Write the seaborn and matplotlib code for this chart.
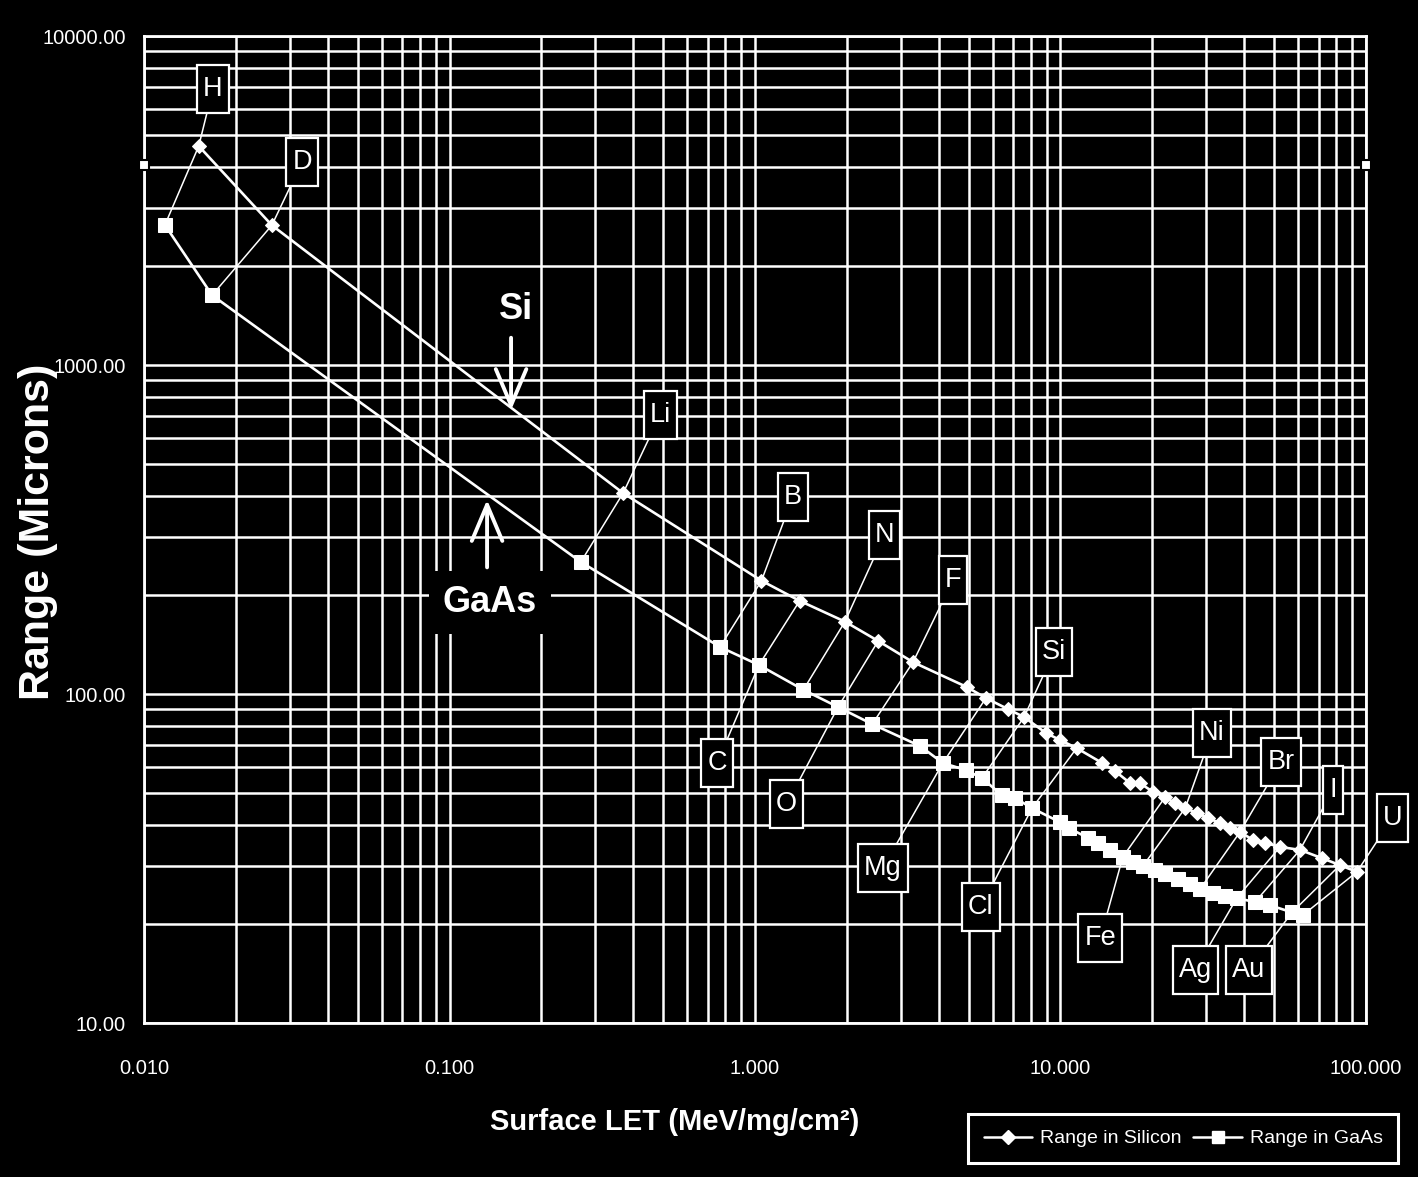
import numpy as np
import pandas as pd
import matplotlib
matplotlib.use('Agg')
import matplotlib.pyplot as plt
import seaborn as sns
from matplotlib.path import Path
from matplotlib.ticker import LogLocator, NullFormatter
from matplotlib.lines import Line2D

# Range in silicon (surface LET, range in microns)
si_let = [0.0151, 0.0262, 0.370, 1.05, 1.40, 1.97, 2.53, 3.29, 4.94, 5.70,
          6.73, 7.60, 8.97, 9.96, 11.3, 13.7, 15.1, 16.9, 18.2, 20.1,
          22.0, 23.7, 25.6, 28.0, 30.4, 33.3, 35.9, 38.7, 42.7, 46.7,
          52.3, 60.8, 71.8, 82.2, 93.4]
si_range = [4630, 2660, 408, 221, 192, 166, 145, 125, 105, 97.2,
            90.0, 85.1, 76.1, 72.5, 68.5, 61.7, 58.3, 53.6, 53.6, 50.4,
            48.6, 46.6, 45.0, 43.5, 42.0, 40.5, 39.1, 38.1, 36.0, 35.3,
            34.3, 33.6, 31.7, 30.2, 28.8]

# Range in GaAs, same ions in the same order
gaas_let = [0.0117, 0.0167, 0.269, 0.768, 1.03, 1.44, 1.87, 2.42, 3.47, 4.12,
            4.91, 5.53, 6.43, 7.10, 8.07, 9.96, 10.7, 12.3, 13.3, 14.5,
            16.0, 17.3, 18.6, 20.4, 22.0, 24.3, 26.5, 28.6, 31.6, 34.6,
            37.8, 43.3, 48.5, 57.3, 62.2]
gaas_range = [2665, 1630, 252, 139, 122.5, 103, 91.3, 81.0, 69.5, 61.7,
              58.7, 55.5, 49.3, 48.3, 45.0, 40.8, 39.1, 36.5, 35.3, 33.6,
              32.0, 30.9, 30.0, 29.2, 28.4, 27.4, 26.5, 25.5, 24.8, 24.3,
              24.0, 23.3, 22.8, 21.7, 21.3]

# ion labels: name, index in the series, which point the leader hits, box centre
ion_names = ['H', 'D', 'Li', 'B', 'C', 'N', 'O', 'F', 'Mg', 'Si',
             'Cl', 'Fe', 'Ni', 'Br', 'Ag', 'I', 'Au', 'U']
ion_index = [0, 1, 2, 3, 4, 5, 6, 7, 9, 11, 14, 20, 22, 27, 30, 31, 33, 34]
ion_side = ['Si', 'Si', 'Si', 'Si', 'GaAs', 'Si', 'GaAs', 'Si', 'GaAs', 'Si',
            'GaAs', 'GaAs', 'Si', 'Si', 'GaAs', 'Si', 'GaAs', 'Si']
ion_box_x = [0.0168, 0.0329, 0.489, 1.33, 0.751, 2.65, 1.27, 4.45, 2.62, 9.52,
             5.49, 13.5, 31.3, 52.7, 27.6, 78.0, 41.4, 122]
ion_box_y = [6900, 4140, 705, 397, 61.7, 304, 46.3, 222, 29.6, 134,
             22.5, 18.1, 76.1, 62.1, 14.5, 51.1, 14.5, 42.0]

x_ticks = [0.01, 0.1, 1, 10, 100]
x_tick_labels = ['0.010', '0.100', '1.000', '10.000', '100.000']
y_ticks = [10, 100, 1000, 10000]
y_tick_labels = ['10.00', '100.00', '1000.00', '10000.00']

sns.set_theme(style='dark', rc={
    'figure.facecolor': 'black', 'axes.facecolor': 'black',
    'savefig.facecolor': 'black', 'axes.edgecolor': 'white',
    'text.color': 'white', 'axes.labelcolor': 'white',
    'xtick.color': 'white', 'ytick.color': 'white', 'grid.color': 'white'})
plt.rcParams['font.family'] = ['Liberation Sans', 'DejaVu Sans']


def tall_box(x0, y0, width, height, mutation_size):
    # narrow, tall label boxes like the Excel callouts
    px = 0.22 * mutation_size
    py = 0.40 * mutation_size
    x0, y0 = x0 - px, y0 - py
    x1, y1 = x0 + width + 2 * px, y0 + height + 2 * py
    return Path([(x0, y0), (x1, y0), (x1, y1), (x0, y1), (x0, y0)], closed=True)


fig = plt.figure(figsize=(14.18, 11.77), dpi=100)
ax = fig.add_axes([0.1016, 0.1308, 0.8617, 0.8386])

si = pd.DataFrame({'let': si_let, 'range': si_range})
gaas = pd.DataFrame({'let': gaas_let, 'range': gaas_range})

sns.lineplot(data=si, x='let', y='range', ax=ax, color='white', lw=1.9,
             marker='D', markersize=7.5, markeredgecolor='white',
             estimator=None, sort=False, zorder=5)
sns.lineplot(data=gaas, x='let', y='range', ax=ax, color='white', lw=1.9,
             marker='s', markersize=10.5, markeredgecolor='white',
             estimator=None, sort=False, zorder=5)

ax.set_xscale('log')
ax.set_yscale('log')
ax.set_xlim(0.01, 100)
ax.set_ylim(10, 10000)

# leader lines and boxed labels
for name, i, side, bx, by in zip(ion_names, ion_index, ion_side, ion_box_x, ion_box_y):
    sx, sy = si_let[i], si_range[i]
    gx, gy = gaas_let[i], gaas_range[i]
    ax.plot([sx, gx], [sy, gy], color='white', lw=1.1, zorder=4)
    nx, ny = (sx, sy) if side == 'Si' else (gx, gy)
    ax.plot([bx, nx], [by, ny], color='white', lw=1.1, zorder=4, clip_on=False)
    ax.text(bx, by, name, ha='center', va='center', fontsize=19.5, color='white',
            zorder=7, clip_on=False,
            bbox=dict(boxstyle=tall_box, fc='black', ec='white', lw=1.6))

# Si / GaAs arrows
ax.annotate('', xy=(0.159, 715), xytext=(0.159, 1234), zorder=6,
            arrowprops=dict(arrowstyle='->,head_length=1.3,head_width=0.55',
                            color='white', lw=2.8, mutation_scale=20))
ax.text(0.165, 1470, 'Si', fontsize=26, fontweight='bold', ha='center', va='center',
        zorder=6, bbox=dict(fc='black', ec='none', pad=5))
ax.annotate('', xy=(0.1327, 397), xytext=(0.1327, 238), zorder=6,
            arrowprops=dict(arrowstyle='->,head_length=1.3,head_width=0.55',
                            color='white', lw=2.8, mutation_scale=20))
ax.text(0.1357, 190, 'GaAs', fontsize=26, fontweight='bold', ha='center', va='center',
        zorder=6, bbox=dict(fc='black', ec='none', pad=10))

# stray series markers on the axis edges
ax.plot([0.01, 100], [4055, 4055], ls='none', marker='s', ms=7, mfc='white',
        mec='black', mew=1.5, clip_on=False, zorder=6)

ax.set_xticks(x_ticks)
ax.set_xticklabels(x_tick_labels)
ax.set_yticks(y_ticks)
ax.set_yticklabels(y_tick_labels)
ax.xaxis.set_minor_locator(LogLocator(base=10, subs=np.arange(2, 10), numticks=100))
ax.yaxis.set_minor_locator(LogLocator(base=10, subs=np.arange(2, 10), numticks=100))
ax.xaxis.set_minor_formatter(NullFormatter())
ax.yaxis.set_minor_formatter(NullFormatter())
ax.tick_params(axis='both', which='major', labelsize=14.5, colors='white',
               length=7, width=1.5, direction='out')
ax.tick_params(axis='x', which='major', pad=19)
ax.tick_params(axis='y', which='major', pad=6)
ax.tick_params(which='minor', length=0)
ax.grid(True, which='both', color='white', lw=1.8, ls='-')
ax.set_axisbelow(True)
for sp in ax.spines.values():
    sp.set_color('white')
    sp.set_linewidth(2)
ax.set_xlabel('')
ax.set_ylabel('')

fig.text(675 / 1418, 1 - 1122 / 1177, 'Surface LET (MeV/mg/cm²)', fontsize=21,
         fontweight='bold', ha='center', va='center')
fig.text(38 / 1418, 1 - 532 / 1177, 'Range (Microns)', fontsize=31, rotation=90,
         fontweight='bold', ha='center', va='center')

handles = [Line2D([], [], color='white', lw=1.8, marker='D', ms=7),
           Line2D([], [], color='white', lw=1.8, marker='s', ms=8)]
leg = fig.legend(handles, ['Range in Silicon', 'Range in GaAs'], loc='lower right',
                 bbox_to_anchor=(0.986, 0.012), borderaxespad=0, ncol=2,
                 fontsize=14, frameon=True, fancybox=False, facecolor='black',
                 edgecolor='white', framealpha=1, handlelength=2.5,
                 handletextpad=0.4, columnspacing=0.6, borderpad=0.8)
leg.get_frame().set_linewidth(2.2)
for t in leg.get_texts():
    t.set_color('white')

fig.savefig('out.png', dpi=100)
